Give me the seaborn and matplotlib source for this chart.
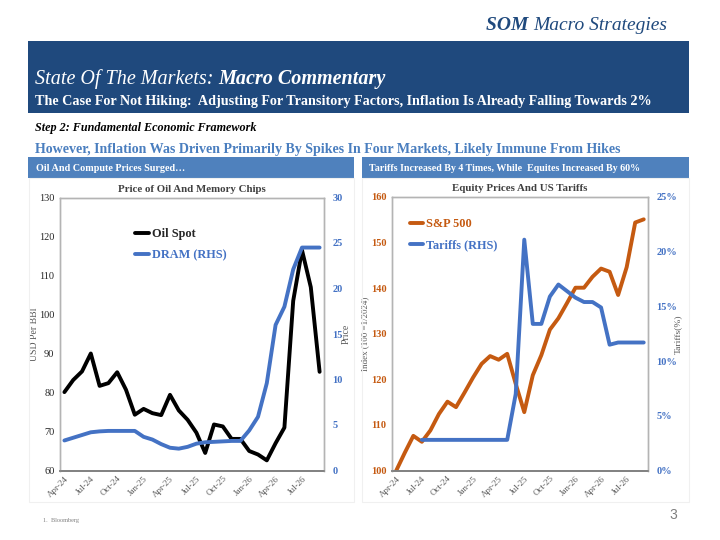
import numpy as np
import pandas as pd
import matplotlib
matplotlib.use("Agg")
import matplotlib.pyplot as plt
from matplotlib.patches import Rectangle
from matplotlib.ticker import FuncFormatter
import seaborn as sns

# ---------------- data ----------------
months = ["Apr-24", "May-24", "Jun-24", "Jul-24", "Aug-24", "Sep-24", "Oct-24", "Nov-24",
          "Dec-24", "Jan-25", "Feb-25", "Mar-25", "Apr-25", "May-25", "Jun-25", "Jul-25",
          "Aug-25", "Sep-25", "Oct-25", "Nov-25", "Dec-25", "Jan-26", "Feb-26", "Mar-26",
          "Apr-26", "May-26", "Jun-26", "Jul-26", "Aug-26", "Sep-26"]
oil_spot = [80.1, 83.2, 85.4, 90.0, 81.7, 82.4, 85.2, 80.7, 74.3, 75.8, 74.7, 74.2,
            79.4, 75.4, 73.0, 69.7, 64.5, 71.8, 71.3, 68.1, 68.1, 65.0, 64.1, 62.6,
            67.0, 71.0, 103.5, 116.5, 107.0, 85.3]
dram = [3.3, 3.6, 3.9, 4.2, 4.3, 4.35, 4.35, 4.35, 4.35, 3.7, 3.4, 2.9,
        2.5, 2.4, 2.6, 2.95, 3.1, 3.15, 3.2, 3.25, 3.25, 4.4, 5.9, 9.6,
        16.0, 18.0, 22.1, 24.5, 24.5, 24.5]
sp500 = [100.0, 103.9, 107.6, 106.3, 108.8, 112.4, 115.1, 113.9, 117.1, 120.4, 123.4, 125.1,
         124.3, 125.6, 119.0, 112.8, 120.9, 125.3, 130.9, 133.4, 136.7, 140.1, 140.1, 142.5,
         144.3, 143.6, 138.5, 144.6, 154.4, 155.1]
tariffs = [np.nan, np.nan, np.nan, 2.8, 2.8, 2.8, 2.8, 2.8, 2.8, 2.8, 2.8, 2.8,
           2.8, 2.8, 7.0, 21.1, 13.4, 13.4, 15.9, 17.0, 16.4, 15.8, 15.4, 15.4,
           14.9, 11.5, 11.7, 11.7, 11.7, 11.7]
tick_every = 3

df = pd.DataFrame({"month": months, "idx": np.arange(len(months)),
                   "oil": oil_spot, "dram": dram, "sp": sp500, "tariff": tariffs})

# ---------------- style ----------------
sns.set_theme(style="white")
plt.rcParams["font.family"] = ["Liberation Serif", "DejaVu Serif"]
plt.rcParams["axes.unicode_minus"] = False

NAVY = "#1f497d"
BOX = "#4f81bd"
SUBBLUE = "#4a7ebf"
BLUE = "#4472c4"
ORANGE = "#c55a11"
GREY = "#595959"

W, H = 720, 540
fig = plt.figure(figsize=(7.2, 5.4), dpi=100)
fig.patch.set_facecolor("white")
renderer = fig.canvas.get_renderer()


def fx(x):
    return x / W


def fy(y):
    return 1 - y / H


def rect(x0, y0, x1, y1, **kw):
    fig.patches.append(Rectangle((fx(x0), fy(y1)), fx(x1) - fx(x0), fy(y0) - fy(y1),
                                 transform=fig.transFigure, **kw))


def chain(x, y, pieces):
    """Place text pieces one after another on a shared baseline."""
    for s, kw in pieces:
        t = fig.text(fx(x), fy(y), s, ha="left", va="baseline", **kw)
        bb = t.get_window_extent(renderer=renderer)
        x = bb.x1


# ---------------- header ----------------
chain(486, 30, [("SOM ", dict(fontsize=14, style="italic", weight="bold", color=NAVY)),
                ("Macro Strategies", dict(fontsize=14, style="italic", color=NAVY))])

rect(28, 41, 689, 113, facecolor=NAVY, edgecolor="none")
chain(35, 84, [("State Of The Markets: ", dict(fontsize=14.5, style="italic", color="white")),
               ("Macro Commentary", dict(fontsize=14.5, style="italic", weight="bold", color="white"))])
fig.text(fx(35), fy(104.5),
         "The Case For Not Hiking:  Adjusting For Transitory Factors, Inflation Is Already Falling Towards 2%",
         ha="left", va="baseline", fontsize=10.15, weight="bold", color="white")

fig.text(fx(35), fy(131), "Step 2: Fundamental Economic Framework", ha="left", va="baseline",
         fontsize=8.7, style="italic", weight="bold", color="black")
fig.text(fx(35), fy(152.5),
         "However, Inflation Was Driven Primarily By Spikes In Four Markets, Likely Immune From Hikes",
         ha="left", va="baseline", fontsize=10.05, weight="bold", color=SUBBLUE)

rect(28, 157, 354, 178, facecolor=BOX, edgecolor="none")
rect(362, 157, 689, 178, facecolor=BOX, edgecolor="none")
fig.text(fx(36), fy(171), "Oil And Compute Prices Surged\u2026", ha="left", va="baseline",
         fontsize=7.3, weight="bold", color="white")
fig.text(fx(369), fy(171), "Tariffs Increased By 4 Times, While  Equites Increased By 60%",
         ha="left", va="baseline", fontsize=7.2, weight="bold", color="white")

# faint panel borders
rect(29, 178, 354, 502, facecolor="none", edgecolor="#f0f0f0", lw=0.8)
rect(362, 178, 689, 502, facecolor="none", edgecolor="#f0f0f0", lw=0.8)

# footer
fig.text(fx(43), fy(522), "1.  Bloomberg", ha="left", va="baseline", fontsize=4.5, color="#7f7f7f")
fig.text(fx(673), fy(519), "3", ha="center", va="baseline", fontsize=10,
         family=["Liberation Sans", "DejaVu Sans"], color="#7f7f7f")


def style_axes(ax, ax2):
    for a in (ax, ax2):
        for s in ("left", "right", "top"):
            a.spines[s].set_color("#b4b4b4")
            a.spines[s].set_linewidth(1.0)
        a.spines["bottom"].set_color("#808080")
        a.spines["bottom"].set_linewidth(1.2)
        a.tick_params(length=0)
        a.grid(False)
    ax.set_xlim(-0.5, len(months) - 0.5)
    ax.set_xticks(df["idx"][::tick_every])
    ax.set_xticklabels(df["month"][::tick_every], rotation=45, ha="right",
                       rotation_mode="anchor", fontsize=6.5, color=GREY)
    ax.tick_params(axis="x", pad=3)
    ax.set_xlabel("")


# ---------------- left chart ----------------
axL = fig.add_axes([fx(60), fy(470.5), fx(324) - fx(60), fy(197.5) - fy(470.5)])
axL2 = axL.twinx()
sns.lineplot(data=df, x="idx", y="oil", ax=axL, color="black", lw=2.8, label="Oil Spot", legend=False)
sns.lineplot(data=df, x="idx", y="dram", ax=axL2, color=BLUE, lw=2.8, label="DRAM (RHS)", legend=False)
axL.set_ylim(60, 130)
axL.set_yticks(range(60, 131, 10))
axL2.set_ylim(0, 30)
axL2.set_yticks(range(0, 31, 5))
style_axes(axL, axL2)
axL.tick_params(axis="y", labelsize=7.5, labelcolor="#262626", pad=4)
axL2.tick_params(axis="y", labelsize=7.5, labelcolor=BLUE, pad=6)
for t in axL2.get_yticklabels():
    t.set_fontweight("bold")
axL.set_ylabel("USD Per BBl", fontsize=7, color=GREY, labelpad=0)
axL2.set_ylabel("Price", fontsize=7, color=GREY, labelpad=-1)
axL.set_title("Price of Oil And Memory Chips", fontsize=7.8, weight="bold", color="#404040", pad=4)
hL = axL.get_lines() + axL2.get_lines()
legL = axL2.legend(hL, [h.get_label() for h in hL], loc="upper left",
                   bbox_to_anchor=(0.285, 0.887), frameon=False, handlelength=1.1,
                   handletextpad=0.25, labelspacing=0.75, borderpad=0, borderaxespad=0,
                   prop={"weight": "bold", "size": 8.8})
for txt, c in zip(legL.get_texts(), ["#262626", BLUE]):
    txt.set_color(c)

# ---------------- right chart ----------------
axR = fig.add_axes([fx(392), fy(470.5), fx(648) - fx(392), fy(197) - fy(470.5)])
axR2 = axR.twinx()
sns.lineplot(data=df, x="idx", y="sp", ax=axR, color=ORANGE, lw=2.8, label="S&P 500", legend=False)
sns.lineplot(data=df, x="idx", y="tariff", ax=axR2, color=BLUE, lw=2.8, label="Tariffs (RHS)", legend=False)
axR.set_ylim(100, 160)
axR.set_yticks(range(100, 161, 10))
axR2.set_ylim(0, 25)
axR2.set_yticks(range(0, 26, 5))
axR2.yaxis.set_major_formatter(FuncFormatter(lambda v, p: f"{v:.0f}%"))
style_axes(axR, axR2)
axR.tick_params(axis="y", labelsize=7.5, labelcolor=ORANGE, pad=4)
axR2.tick_params(axis="y", labelsize=7.5, labelcolor=BLUE, pad=6)
for t in axR.get_yticklabels() + axR2.get_yticklabels():
    t.set_fontweight("bold")
axR.set_ylabel("Index (100 =1/2024)", fontsize=6.5, color=GREY, labelpad=1.0)
axR2.set_ylabel("Tariffs(%)", fontsize=6.8, color=GREY, labelpad=-2)
axR.set_title("Equity Prices And US Tariffs", fontsize=7.8, weight="bold", color="#404040", pad=4)
hR = axR.get_lines() + axR2.get_lines()
legR = axR2.legend(hR, [h.get_label() for h in hR], loc="upper left",
                   bbox_to_anchor=(0.07, 0.922), frameon=False, handlelength=1.1,
                   handletextpad=0.25, labelspacing=0.75, borderpad=0, borderaxespad=0,
                   prop={"weight": "bold", "size": 8.8})
for txt, c in zip(legR.get_texts(), [ORANGE, BLUE]):
    txt.set_color(c)

fig.savefig("out.png", dpi=100, facecolor="white")
